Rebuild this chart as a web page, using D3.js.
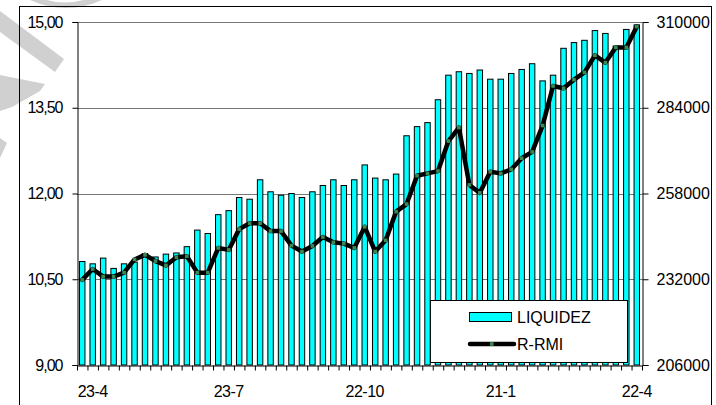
<!DOCTYPE html>
<html>
<head>
<meta charset="utf-8">
<script src="https://cdn.jsdelivr.net/npm/d3@7"></script>
<style>
  html, body { margin: 0; padding: 0; background: #fff; }
  svg { display: block; font-family: "Liberation Sans", Arial, sans-serif; }
</style>
</head>
<body>
<svg id="chart" width="716" height="405"></svg>
<script>
// ---- data ----
const categories = ["16-4","23-4","30-4","7-5","14-5","21-5","28-5","4-6","11-6","18-6","25-6","2-7","9-7","16-7","23-7","30-7","6-8","13-8","20-8","27-8","3-9","10-9","17-9","24-9","1-10","8-10","15-10","22-10","29-10","5-11","12-11","19-11","26-11","3-12","10-12","17-12","24-12","31-12","7-1","14-1","21-1","28-1","4-2","11-2","18-2","25-2","4-3","11-3","18-3","25-3","1-4","8-4","15-4","22-4"];
const tickLabels = ["23-4","23-7","22-10","21-1","22-4"];
const liquidez = [10.81,10.77,10.87,10.69,10.77,10.80,10.95,10.89,10.94,10.96,11.07,11.36,11.30,11.63,11.70,11.93,11.90,12.24,12.03,11.97,12.00,11.93,12.03,12.14,12.24,12.14,12.24,12.50,12.27,12.24,12.34,13.01,13.17,13.24,13.64,14.07,14.13,14.10,14.16,14.00,14.00,14.10,14.17,14.27,13.97,14.07,14.54,14.64,14.68,14.85,14.80,14.58,14.87,14.95];
const rrmi = [231800,235100,232800,232800,234000,238000,239400,237500,236200,238700,239000,234000,234000,241500,240900,247200,249000,249000,246600,246600,242200,240400,242100,244800,243200,242800,241500,247900,240400,243800,252500,254800,263400,264100,264800,273900,278000,260600,258200,264600,264100,265300,268700,270600,278600,290600,289900,292500,294700,299900,297700,302300,302300,308600];
const leftTicks = [9, 10.5, 12, 13.5, 15];
const rightTicks = [206000, 232000, 258000, 284000, 310000];
const seriesNames = ["LIQUIDEZ", "R-RMI"];

// ---- layout ----
const svg = d3.select("#chart");
const X0 = 77, X1 = 642, Y0 = 365, Y1 = 22;

const x = d3.scaleBand().domain(categories).range([X0, X1]).paddingInner(0.48).paddingOuter(0.24);
const xLin = d3.scaleLinear().domain([0, categories.length]).range([X0, X1]);
const yL = d3.scaleLinear().domain([9, 15]).range([Y0, Y1]);
const yR = d3.scaleLinear().domain([206000, 310000]).range([Y0, Y1]);

// watermark shapes (light grey)
const wm = svg.append("g").attr("fill", "#d0d0d0");
wm.append("path").attr("fill-rule", "evenodd")
  .attr("d", "M30,0 Q66,16 102,0 Z M47,0 Q65,5 83,0 Z");
wm.append("path").attr("d", "M0,11 L64,59 L55,72 L0,32 Z");
wm.append("path").attr("d", "M0,75 L45,84 L40,91 L12,107 L0,111 Z");
wm.append("path").attr("d", "M0,138 L7,143 L0,158 Z");

// outer frame
svg.append("rect").attr("x", 19.5).attr("y", 6.5).attr("width", 692).attr("height", 420)
  .attr("fill", "none").attr("stroke", "#000").attr("stroke-width", 1);

// gridlines
svg.append("g").selectAll("line").data(leftTicks.slice(1)).join("line")
  .attr("x1", X0).attr("x2", X1)
  .attr("y1", d => Math.round(yL(d)) + 0.5).attr("y2", d => Math.round(yL(d)) + 0.5)
  .attr("stroke", "#777").attr("stroke-width", 1);

// bars
svg.append("g").selectAll("rect").data(liquidez).join("rect")
  .attr("x", (d, i) => x(categories[i]))
  .attr("width", x.bandwidth())
  .attr("y", d => yL(d))
  .attr("height", d => Y0 - yL(d))
  .attr("fill", "#00FFFF").attr("stroke", "#000").attr("stroke-width", 1);

// line
const cx = i => x(categories[i]) + x.bandwidth() / 2;
svg.append("path").datum(rrmi)
  .attr("d", d3.line().x((d, i) => cx(i)).y(d => yR(d)))
  .attr("fill", "none").attr("stroke", "#000").attr("stroke-width", 4.5)
  .attr("stroke-linejoin", "round").attr("stroke-linecap", "round");
svg.append("g").selectAll("rect").data(rrmi).join("rect")
  .attr("x", (d, i) => cx(i) - 1.8).attr("y", d => yR(d) - 1.8)
  .attr("width", 3.6).attr("height", 3.6).attr("fill", "#3a8a58");

// left axis
const fmtL = d => d3.format(".2f")(d).replace(".", ",");
const gL = svg.append("g").attr("transform", `translate(${X0 + 0.5},0)`)
  .call(d3.axisLeft(yL).tickValues(leftTicks).tickFormat(fmtL).tickSize(5).tickPadding(10));
gL.select(".domain").attr("stroke", "#000");
gL.selectAll("text").attr("font-size", 16).attr("letter-spacing", "-1px")
  .attr("font-family", "Liberation Sans, Arial, sans-serif").attr("fill", "#000");

// right axis
const gR = svg.append("g").attr("transform", `translate(${X1 + 0.5},0)`)
  .call(d3.axisRight(yR).tickValues(rightTicks).tickFormat(d3.format("d")).tickSize(6).tickPadding(8));
gR.selectAll("text").attr("font-size", 16)
  .attr("font-family", "Liberation Sans, Arial, sans-serif").attr("fill", "#000");

// bottom axis (ticks at category boundaries)
const gB = svg.append("g").attr("transform", `translate(0,${Y0 + 0.5})`)
  .call(d3.axisBottom(xLin).tickValues(d3.range(0, categories.length + 1)).tickFormat("").tickSize(5).tickSizeOuter(0));
gB.select(".domain").attr("stroke", "#000");

// bottom labels
svg.append("g").selectAll("text").data(tickLabels).join("text")
  .attr("x", d => x(d) + x.bandwidth() / 2)
  .attr("y", 397)
  .attr("text-anchor", "middle").attr("font-size", 16).attr("letter-spacing", "-0.5px")
  .attr("fill", "#000").text(d => d);

// legend
const lg = svg.append("g");
lg.append("rect").attr("x", 430.5).attr("y", 300.5).attr("width", 197).attr("height", 62)
  .attr("fill", "#fff").attr("stroke", "#000");
lg.append("rect").attr("x", 469.5).attr("y", 312.5).attr("width", 42).attr("height", 9)
  .attr("fill", "#00FFFF").attr("stroke", "#000");
lg.append("line").attr("x1", 470).attr("x2", 514).attr("y1", 344).attr("y2", 344)
  .attr("stroke", "#000").attr("stroke-width", 4.5).attr("stroke-linecap", "round");
lg.append("rect").attr("x", 490).attr("y", 342.2).attr("width", 3.6).attr("height", 3.6).attr("fill", "#3a8a58");
lg.selectAll("text.lt").data(seriesNames).join("text")
  .attr("x", 517).attr("y", (d, i) => 317 + i * 27)
  .attr("dy", "0.35em").attr("font-size", 16).attr("fill", "#000").text(d => d);
</script>
</body>
</html>
